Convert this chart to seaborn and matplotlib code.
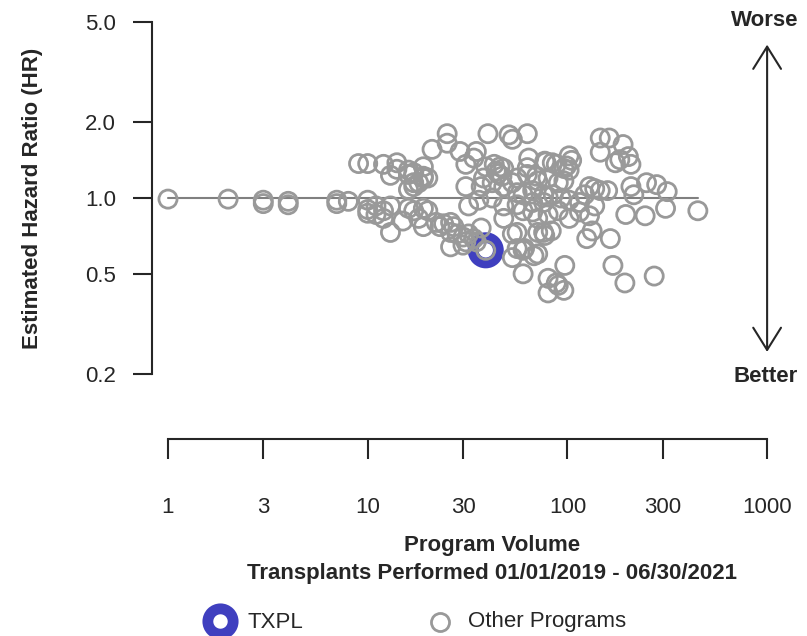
import matplotlib
matplotlib.use("Agg")
import matplotlib.pyplot as plt
import seaborn as sns
import pandas as pd
from matplotlib.lines import Line2D
from matplotlib.ticker import NullLocator

sns.set_theme(style="white")
plt.rcParams["font.family"] = ["Liberation Sans", "DejaVu Sans"]

# Program volume (transplants performed) of each other program
volume = [
    1, 2, 3, 3, 4, 4, 7, 7, 8, 10, 10, 10,
    9, 10, 12, 14, 14, 16, 13, 17, 19, 19, 20, 17, 16, 17, 18, 19, 16,
    25, 25, 21, 29, 35, 34, 31, 40, 51, 53, 63,
    64, 78, 88, 102, 105, 96, 102,
    39, 43, 46, 48, 44, 45, 47, 38, 37, 42, 31, 48, 53, 56, 63, 71, 80, 90, 96,
    63, 70, 77, 84, 99,
    146, 162, 190, 146, 174, 202, 208, 183,
    129, 137, 146, 159, 208, 215, 249, 280, 316,
    56, 60, 67, 76, 80, 85, 93, 102, 115, 76, 67, 56, 48, 42, 36, 32,
    48, 60, 67, 71, 80, 90, 102, 115, 129, 137, 122,
    11, 12, 13, 12, 11, 13, 15, 16, 17, 19, 20, 18, 19, 22, 23, 24, 26, 27,
    26, 28, 30, 31, 34, 37, 32, 26, 30, 35,
    39, 53, 56, 60, 71, 53, 56, 71, 76, 83, 125, 133, 164,
    60, 80, 88, 97, 80, 96, 90, 169, 194, 272,
    196, 245, 310, 450, 61, 68, 77,
]

# Estimated hazard ratio of each other program
hazard_ratio = [
    0.99, 0.99, 0.98, 0.95, 0.97, 0.94, 0.95, 0.98, 0.97, 0.98, 0.90, 0.87,
    1.37, 1.37, 1.36, 1.38, 1.30, 1.29, 1.23, 1.26, 1.33, 1.20, 1.20, 1.11, 1.24, 1.15, 1.15, 1.22, 1.08,
    1.80, 1.65, 1.56, 1.53, 1.53, 1.44, 1.36, 1.80, 1.78, 1.71, 1.80,
    1.44, 1.39, 1.36, 1.47, 1.41, 1.31, 1.29,
    1.33, 1.36, 1.33, 1.31, 1.28, 1.25, 1.22, 1.20, 1.11, 1.15, 1.11, 1.11, 1.15, 1.20, 1.24, 1.17, 1.20, 1.15, 1.17,
    1.32, 1.22, 1.40, 1.38, 1.34,
    1.73, 1.73, 1.63, 1.52, 1.38, 1.46, 1.36, 1.42,
    1.11, 1.09, 1.07, 1.07, 1.11, 1.03, 1.15, 1.13, 1.06,
    1.05, 1.03, 1.07, 1.03, 1.01, 1.03, 1.00, 0.98, 0.96, 0.96, 0.96, 0.94, 0.93, 1.00, 0.98, 0.93,
    0.83, 0.89, 0.88, 0.83, 0.86, 0.89, 0.83, 0.88, 0.85, 0.93, 1.03,
    0.93, 0.89, 0.93, 0.83, 0.86, 0.73, 0.81, 0.91, 0.89, 0.91, 0.89, 0.83, 0.77, 0.80, 0.77, 0.79, 0.80, 0.77,
    0.73, 0.72, 0.70, 0.67, 0.69, 0.76, 0.72, 0.64, 0.65, 0.67,
    0.62, 0.58, 0.63, 0.62, 0.60, 0.72, 0.73, 0.73, 0.73, 0.74, 0.69, 0.74, 0.69,
    0.50, 0.48, 0.46, 0.54, 0.42, 0.43, 0.45, 0.54, 0.46, 0.49,
    0.86, 0.85, 0.91, 0.89, 0.63, 0.59, 0.71,
]

# The highlighted program
center_name = "TXPL"
center_volume = [39]
center_hr = [0.62]

y_ticks = [0.2, 0.5, 1.0, 2.0, 5.0]
y_tick_labels = ["0.2", "0.5", "1.0", "2.0", "5.0"]
x_ticks = [1, 3, 10, 30, 100, 300, 1000]
x_tick_labels = ["1", "3", "10", "30", "100", "300", "1000"]

others = pd.DataFrame({"volume": volume, "hr": hazard_ratio})
center = pd.DataFrame({"volume": center_volume, "hr": center_hr})

GRAY = "#999999"
BLUE = "#3F3FBF"
INK = "#262626"
W, H = 807, 636

fig = plt.figure(figsize=(W / 100, H / 100), dpi=100)
ax = fig.add_axes([151.5 / W, 1 - 374.1 / H, 638.5 / W, 352.2 / H])
ax.set_xscale("log")
ax.set_yscale("log")
ax.set_xlim(0.8268, 1302)
ax.set_ylim(0.2, 5.0)

# reference line at HR = 1 across the observed volume range
ax.plot([1, max(volume)], [1, 1], color="#808080", lw=1.5, zorder=1)

sns.scatterplot(data=center, x="volume", y="hr", ax=ax, s=330, marker="o",
                facecolor="none", edgecolor=BLUE, linewidth=7.8, zorder=2,
                legend=False)
sns.scatterplot(data=others, x="volume", y="hr", ax=ax, s=170, marker="o",
                facecolor="none", edgecolor=GRAY, linewidth=2.0, zorder=3,
                legend=False)

ax.set_xlabel("")
ax.set_ylabel("")
ax.set_xticks(x_ticks, x_tick_labels)
ax.set_yticks(y_ticks, y_tick_labels)
ax.xaxis.set_minor_locator(NullLocator())
ax.yaxis.set_minor_locator(NullLocator())

for side in ("top", "right"):
    ax.spines[side].set_visible(False)
ax.spines["left"].set_bounds(0.2, 5.0)
ax.spines["bottom"].set_bounds(1, 1000)
ax.spines["bottom"].set_position(("outward", 46.8))
for side in ("left", "bottom"):
    ax.spines[side].set_color(INK)
    ax.spines[side].set_linewidth(1.5)

ax.tick_params(axis="y", direction="out", length=13.7, width=1.5, pad=12,
               labelsize=16, colors=INK, left=True)
ax.tick_params(axis="x", direction="out", length=14.4, width=1.5, pad=27,
               labelsize=16, colors=INK, bottom=True)

fig.text(33 / W, 1 - 198 / H, "Estimated Hazard Ratio (HR)", rotation=90,
         ha="center", va="center", fontsize=16, fontweight="bold", color=INK)
fig.text(492 / W, 1 - 545 / H, "Program Volume", ha="center", va="center",
         fontsize=16, fontweight="bold", color=INK)
fig.text(492 / W, 1 - 574 / H, "Transplants Performed 01/01/2019 - 06/30/2021",
         ha="center", va="center", fontsize=16, fontweight="bold", color=INK)

# direction of the hazard ratio scale
fig.text(765 / W, 1 - 20 / H, "Worse", ha="center", va="center",
         fontsize=16, fontweight="bold", color=INK)
fig.text(766 / W, 1 - 377 / H, "Better", ha="center", va="center",
         fontsize=16, fontweight="bold", color=INK)
ax.annotate("", xy=(1000, 4.06), xytext=(1000, 0.245),
            arrowprops=dict(arrowstyle="<->,head_length=1.6,head_width=1.0",
                            lw=1.5, color=INK, shrinkA=0, shrinkB=0,
                            mutation_scale=10),
            annotation_clip=False)

# legend row
fig.add_artist(Line2D([220 / W], [1 - 621 / H], marker="o", ms=18.2,
                      mfc="none", mec=BLUE, mew=7.8, ls="none",
                      transform=fig.transFigure))
fig.text(248 / W, 1 - 622 / H, center_name, ha="left", va="center",
         fontsize=16, color=INK)
fig.add_artist(Line2D([440 / W], [1 - 622 / H], marker="o", ms=13.0,
                      mfc="none", mec=GRAY, mew=2.0, ls="none",
                      transform=fig.transFigure))
fig.text(468 / W, 1 - 622 / H, "Other Programs", ha="left", va="center",
         fontsize=16, color=INK)

fig.savefig("out.png", dpi=100)
